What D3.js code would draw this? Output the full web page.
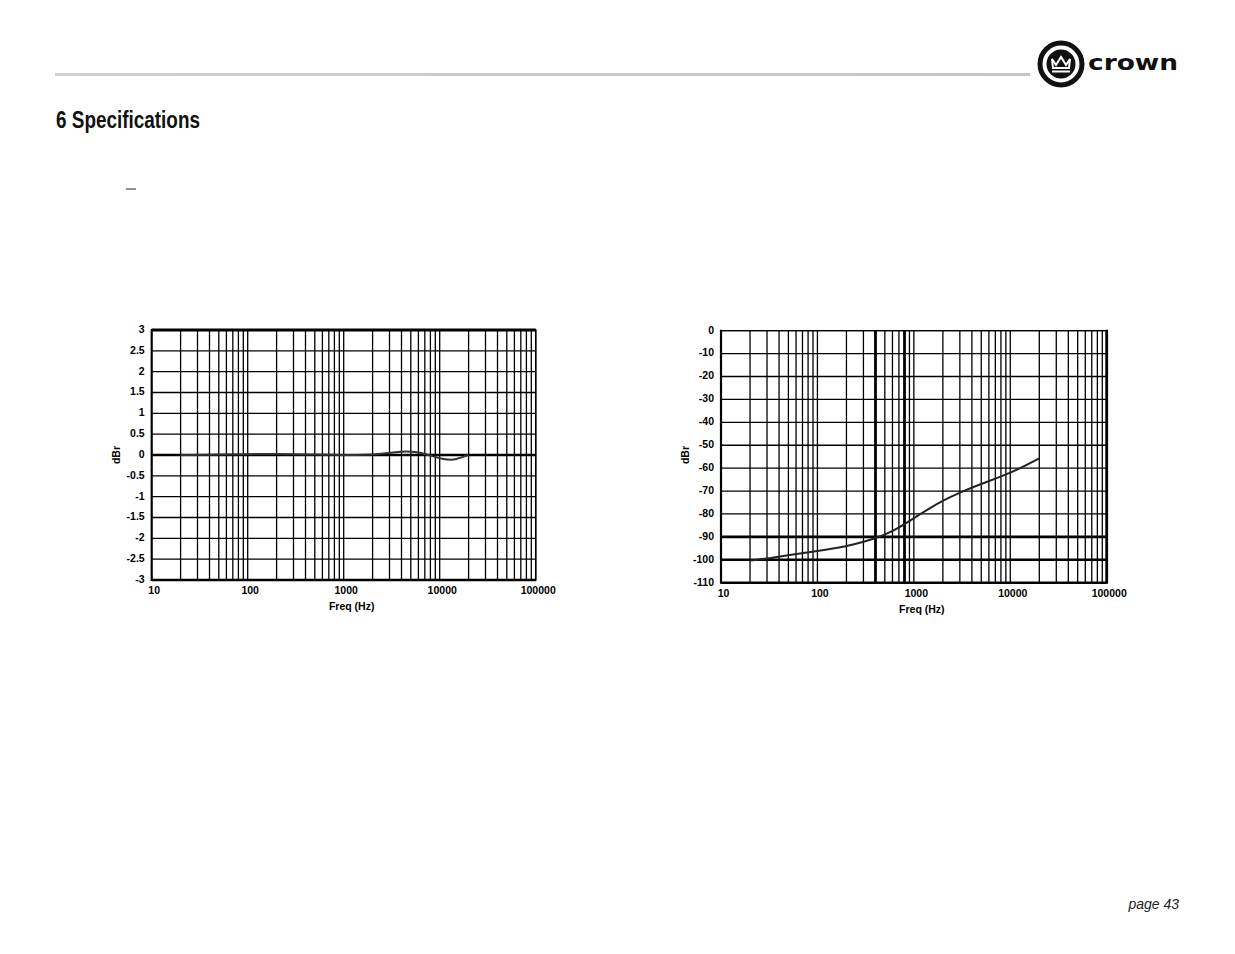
<!DOCTYPE html>
<html><head><meta charset="utf-8">
<script src="https://cdn.jsdelivr.net/npm/d3@7"></script>
<style>
body{margin:0;background:#fff;}
svg text{font-family:"Liberation Sans",Arial,sans-serif;}
</style></head>
<body>
<svg id="page" width="1235" height="954"></svg>
<script>
// ---- data ----
const freqTicks = [10, 100, 1000, 10000, 100000];
const freqTickLabels = ["10", "100", "1000", "10000", "100000"];

const respTicks = [3, 2.5, 2, 1.5, 1, 0.5, 0, -0.5, -1, -1.5, -2, -2.5, -3];
const respTickLabels = ["3", "2.5", "2", "1.5", "1", "0.5", "0", "-0.5", "-1", "-1.5", "-2", "-2.5", "-3"];
const respFreq = [20, 50, 100, 200, 500, 1000, 1600, 2500, 3500, 4500, 5500, 7000, 9000, 11000, 13000, 15000, 17000, 20000];
const respDb   = [0, 0.01, 0.02, 0.03, 0.01, 0, 0, 0.03, 0.07, 0.09, 0.08, 0.03, -0.05, -0.1, -0.12, -0.1, -0.05, 0];

const noiseTicks = [0, -10, -20, -30, -40, -50, -60, -70, -80, -90, -100, -110];
const noiseTickLabels = ["0", "-10", "-20", "-30", "-40", "-50", "-60", "-70", "-80", "-90", "-100", "-110"];
const noiseFreq = [20, 30, 50, 100, 200, 300, 400, 500, 700, 1000, 1500, 2000, 3000, 5000, 10000, 20000];
const noiseDb   = [-100.3, -99.5, -97.9, -96.2, -94.2, -92.2, -90.6, -89.1, -86.0, -81.8, -77.2, -74.2, -70.6, -66.8, -62.3, -55.7];

const svg = d3.select("#page");

// ---- page furniture ----
const grad = svg.append("defs").append("linearGradient").attr("id","rule");
grad.append("stop").attr("offset","0%").attr("stop-color","#d0d0d0");
grad.append("stop").attr("offset","100%").attr("stop-color","#c4c4c4");
svg.append("rect").attr("x",55).attr("y",73).attr("width",975).attr("height",3).attr("fill","url(#rule)");

// logo
const logo = svg.append("g").attr("transform","translate(1061,64)");
logo.append("circle").attr("r",21).attr("fill","none").attr("stroke","#111").attr("stroke-width",5);
logo.append("circle").attr("r",14.5).attr("fill","#111");
logo.append("path").attr("d","M-9,-5 L-5,1 L0,-7 L5,1 L9,-5 L8,4 L-8,4 Z").attr("fill","none").attr("stroke","#fff").attr("stroke-width",2);
logo.append("line").attr("x1",-9).attr("x2",9).attr("y1",7.5).attr("y2",7.5).attr("stroke","#fff").attr("stroke-width",2);
svg.append("text").attr("x",1088).attr("y",70).attr("font-size",22).attr("font-weight","bold")
  .attr("textLength",90).attr("lengthAdjust","spacingAndGlyphs")
  .style("font-family","'DejaVu Sans',sans-serif").attr("fill","#111").text("crown");

svg.append("text").attr("x",56).attr("y",128).attr("font-size",23.5).attr("font-weight","bold")
  .attr("textLength",144).attr("lengthAdjust","spacingAndGlyphs")
  .style("font-family","'Liberation Sans',Arial,sans-serif").attr("fill","#111")
  .text("6 Specifications");
svg.append("line").attr("x1",126).attr("x2",136).attr("y1",189).attr("y2",189).attr("stroke","#222").attr("stroke-width",1);

svg.append("text").attr("x",1179).attr("y",909).attr("text-anchor","end").attr("font-size",14)
  .attr("font-style","italic").attr("fill","#222").text("page 43");

// ---- chart builder ----
function minorFreqs(){
  const out=[];
  for(let d=10; d<100000; d*=10){ for(let k=2;k<=10;k++) out.push(d*k); }
  return out;
}

function chart(opt){
  const g = svg.append("g");
  const x = d3.scaleLog().domain([10,100000]).range([opt.x0,opt.x1]);
  const y = d3.scaleLinear().domain(opt.yDomain).range([opt.y0,opt.y1]);

  // vertical grid
  g.append("g").selectAll("line").data(minorFreqs()).join("line")
    .attr("x1",d=>x(d)).attr("x2",d=>x(d)).attr("y1",opt.y0).attr("y2",opt.y1)
    .attr("stroke","#000").attr("stroke-width",d=>opt.thickX.includes(d)?2.8:1.3);
  // horizontal grid
  g.append("g").selectAll("line").data(opt.ticks).join("line")
    .attr("x1",opt.x0).attr("x2",opt.x1).attr("y1",d=>y(d)).attr("y2",d=>y(d))
    .attr("stroke","#000").attr("stroke-width",d=>opt.thickY.includes(d)?2.6:1.3);
  // borders
  g.append("line").attr("x1",opt.x0).attr("x2",opt.x0).attr("y1",opt.y0+1).attr("y2",opt.y1-1).attr("stroke","#000").attr("stroke-width",2.2);
  g.append("line").attr("x1",opt.x0).attr("x2",opt.x1).attr("y1",opt.y1).attr("y2",opt.y1).attr("stroke","#000").attr("stroke-width",opt.topW);
  g.append("line").attr("x1",opt.x0).attr("x2",opt.x1).attr("y1",opt.y0).attr("y2",opt.y0).attr("stroke","#000").attr("stroke-width",2.6);
  g.append("line").attr("x1",opt.x1).attr("x2",opt.x1).attr("y1",opt.y0+1).attr("y2",opt.y1-1).attr("stroke","#000").attr("stroke-width",opt.rightW);

  // y axis labels
  const ya = d3.axisLeft(y).tickValues(opt.ticks).tickFormat((d,i)=>opt.tickLabels[i]).tickSize(0).tickPadding(0);
  const yg = g.append("g").attr("transform",`translate(${opt.x0-7},-1)`).call(ya);
  yg.select(".domain").remove();
  yg.selectAll("text").attr("font-size",10.5).attr("font-weight","bold").attr("fill","#000")
    .style("font-family","'Liberation Sans',Arial,sans-serif");
  // x axis labels
  const xa = d3.axisBottom(x).tickValues(freqTicks).tickFormat((d,i)=>freqTickLabels[i]).tickSize(0).tickPadding(0);
  const xg = g.append("g").attr("transform",`translate(2,${opt.y0+7})`).call(xa);
  xg.select(".domain").remove();
  xg.selectAll("text").attr("font-size",10.5).attr("font-weight","bold").attr("fill","#000")
    .style("font-family","'Liberation Sans',Arial,sans-serif");

  g.append("text").attr("x",(opt.x0+opt.x1)/2+8).attr("y",opt.y0+30).attr("text-anchor","middle")
    .attr("font-size",10.5).attr("font-weight","bold").text("Freq (Hz)");
  g.append("text").attr("transform",`translate(${opt.x0-32},${opt.dbrY}) rotate(-90)`).attr("text-anchor","middle")
    .attr("font-size",10.5).attr("font-weight","bold").text("dBr");

  // curve
  const line = d3.line().x(d=>x(d[0])).y(d=>y(d[1])).curve(d3.curveBasis);
  g.append("path").datum(opt.xs.map((f,i)=>[f,opt.ys[i]]))
    .attr("d",line).attr("fill","none").attr("stroke",opt.curveColor).attr("stroke-width",opt.curveW);
}

chart({x0:151.7, x1:535.7, y0:580, y1:330, yDomain:[-3,3], ticks:respTicks, tickLabels:respTickLabels,
  thickX:[], thickY:[0], topW:3, rightW:1.5, dbrY:455,
  xs:respFreq, ys:respDb, curveColor:"#333", curveW:2});

chart({x0:721, x1:1106.7, y0:582.7, y1:330.7, yDomain:[-110,0], ticks:noiseTicks, tickLabels:noiseTickLabels,
  thickX:[400,800], thickY:[-90,-100], topW:1.3, rightW:2.8, dbrY:455,
  xs:noiseFreq, ys:noiseDb, curveColor:"#222", curveW:2});
</script>
</body></html>
